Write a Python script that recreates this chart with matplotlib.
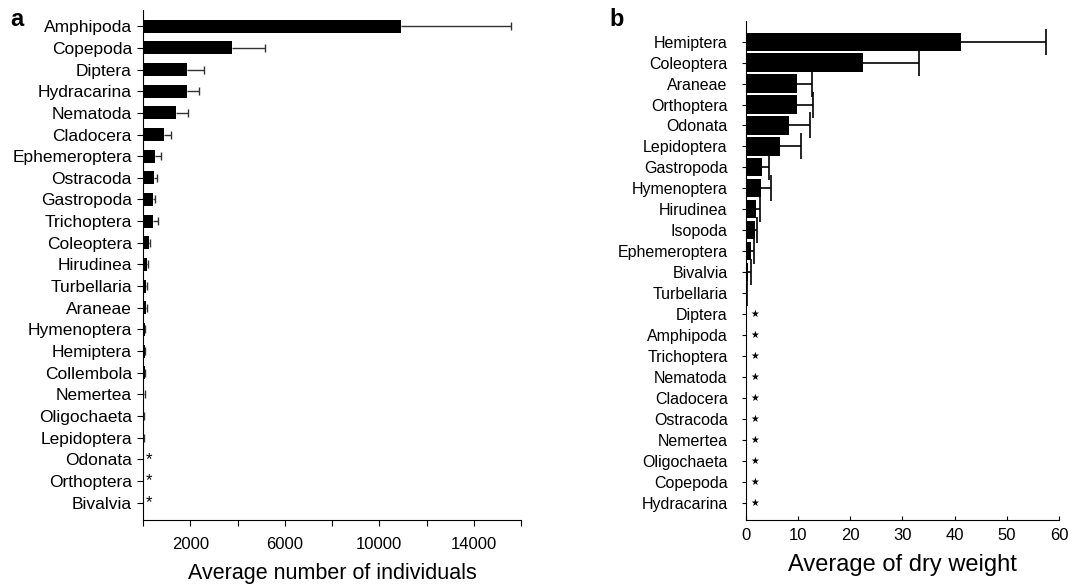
import matplotlib
matplotlib.use("Agg")
import matplotlib.pyplot as plt
import numpy as np

plt.rcParams['font.family'] = ['Liberation Sans', 'DejaVu Sans']

################################# Data #################################
# panel a : average number of individuals
taxa_a = ["Amphipoda", "Copepoda", "Diptera", "Hydracarina", "Nematoda", "Cladocera",
          "Ephemeroptera", "Ostracoda", "Gastropoda", "Trichoptera", "Coleoptera",
          "Hirudinea", "Turbellaria", "Araneae", "Hymenoptera", "Hemiptera",
          "Collembola", "Nemertea", "Oligochaeta", "Lepidoptera", "Odonata",
          "Orthoptera", "Bivalvia"]
mean_a = [10900, 3750, 1840, 1840, 1380, 890, 520, 450, 435, 435, 265,
          170, 110, 125, 80, 80, 80, 60, 40, 40, 0, 0, 0]
err_a = [4670, 1400, 720, 520, 520, 280, 240, 130, 75, 185, 20,
         40, 70, 45, 10, 10, 10, 40, 10, 10, 0, 0, 0]
star_a = ["Odonata", "Orthoptera", "Bivalvia"]

# panel b : average of dry weight
taxa_b = ["Hemiptera", "Coleoptera", "Araneae", "Orthoptera", "Odonata", "Lepidoptera",
          "Gastropoda", "Hymenoptera", "Hirudinea", "Isopoda", "Ephemeroptera",
          "Bivalvia", "Turbellaria", "Diptera", "Amphipoda", "Trichoptera",
          "Nematoda", "Cladocera", "Ostracoda", "Nemertea", "Oligochaeta",
          "Copepoda", "Hydracarina"]
mean_b = [41.2, 22.5, 9.9, 9.9, 8.3, 6.6, 3.2, 3.0, 2.0, 1.8, 1.0, 0.45, 0.25,
          0, 0, 0, 0, 0, 0, 0, 0, 0, 0]
err_b = [16.3, 10.7, 2.8, 3.0, 4.1, 4.0, 1.2, 1.9, 0.7, 0.4, 0.6, 0.5, 0.05,
         0, 0, 0, 0, 0, 0, 0, 0, 0, 0]
star_b = ["Diptera", "Amphipoda", "Trichoptera", "Nematoda", "Cladocera", "Ostracoda",
          "Nemertea", "Oligochaeta", "Copepoda", "Hydracarina"]


################################# Helpers #################################
def barres_erreur(ax, y, mean, err, color, lw, cap):
    # one sided error bar: line from bar end, cap only at the far end
    mean = np.asarray(mean, dtype=float)
    err = np.asarray(err, dtype=float)
    keep = err > 0
    ax.hlines(y[keep], mean[keep], mean[keep] + err[keep], color=color, lw=lw, zorder=3)
    ax.plot(mean[keep] + err[keep], y[keep], ls="none", marker="|", ms=cap,
            mew=lw, color=color, zorder=3)


################################# Figure #################################
fig = plt.figure(figsize=(10.73, 5.85), dpi=100)

# ---- panel a
ax_a = fig.add_axes([0.1333, 0.1111, 0.3523, 0.8718])
ya = np.arange(len(taxa_a))
ax_a.barh(ya, mean_a, height=0.6, color="black", zorder=2)
barres_erreur(ax_a, ya, mean_a, err_a, "#333333", 1.0, 6)
for name in star_a:
    ax_a.text(250, taxa_a.index(name), "*", ha="center", va="center", fontsize=12)
ax_a.set_yticks(ya)
ax_a.set_yticklabels(taxa_a, fontsize=12.5)
ax_a.set_ylim(len(taxa_a) - 1 + 0.8, -0.75)
ax_a.set_xlim(0, 16000)
ticks_a = np.arange(0, 16001, 2000)
ax_a.set_xticks(ticks_a)
ax_a.set_xticklabels([str(t) if t in (2000, 6000, 10000, 14000) else "" for t in ticks_a],
                     fontsize=12)
ax_a.set_xlabel("Average number of individuals", fontsize=15.5, labelpad=8)
ax_a.tick_params(axis="x", direction="out", length=4, pad=8)
ax_a.tick_params(axis="y", direction="out", length=4, pad=4)
for s in ["top", "right"]:
    ax_a.spines[s].set_visible(False)
fig.text(0.010, 0.955, "a", fontsize=17, fontweight="bold")

# ---- panel b
ax_b = fig.add_axes([0.695, 0.1111, 0.2919, 0.8535])
yb = np.arange(len(taxa_b))
ax_b.barh(yb, mean_b, height=0.87, color="black", zorder=2)
barres_erreur(ax_b, yb, mean_b, err_b, "black", 1.2, 19)
for name in star_b:
    ax_b.text(1.8, taxa_b.index(name), "★", ha="center", va="center", fontsize=7,
              family="DejaVu Sans")
ax_b.set_yticks(yb)
ax_b.set_yticklabels(taxa_b, fontsize=11.5)
ax_b.set_ylim(len(taxa_b) - 1 + 0.83, -1.0)
ax_b.set_xlim(0, 60)
ax_b.set_xticks(np.arange(0, 61, 10))
ax_b.tick_params(axis="x", direction="in", length=3, labelsize=12, pad=6)
ax_b.tick_params(axis="y", direction="out", length=3, pad=10)
ax_b.set_xlabel("Average of dry weight", fontsize=17, labelpad=8)
for s in ["top", "right"]:
    ax_b.spines[s].set_visible(False)
fig.text(0.568, 0.955, "b", fontsize=17, fontweight="bold")

fig.savefig("out.png", dpi=100)
